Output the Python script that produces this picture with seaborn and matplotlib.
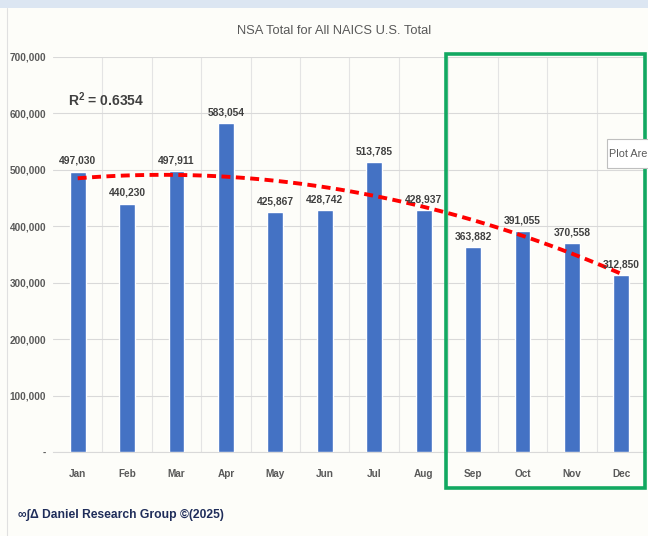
import numpy as np
import pandas as pd
import seaborn as sns
import matplotlib.pyplot as plt
from matplotlib.patches import Rectangle
from matplotlib.lines import Line2D
from matplotlib.ticker import FuncFormatter, MultipleLocator

# Monthly values
months = ['Jan', 'Feb', 'Mar', 'Apr', 'May', 'Jun', 'Jul', 'Aug', 'Sep', 'Oct', 'Nov', 'Dec']
totals = [497030, 440230, 497911, 583054, 425867, 428742, 513785, 428937, 363882, 391055, 370558, 312850]
r2_text = 'R$^\\mathbf{2}$ = 0.6354'

df = pd.DataFrame({'month': months, 'total': totals})

sns.set_style('white')
plt.rcParams['font.family'] = ['Liberation Sans', 'DejaVu Sans']
plt.rcParams['mathtext.fontset'] = 'custom'
plt.rcParams['mathtext.rm'] = 'Liberation Sans'
plt.rcParams['mathtext.bf'] = 'Liberation Sans:bold'

bg = '#FDFDF9'
grey = '#595959'
fig = plt.figure(figsize=(6.48, 5.36), dpi=100, facecolor=bg)
ax = fig.add_axes([53 / 648, 1 - 452 / 536, 593 / 648, 395 / 536])
ax.set_facecolor(bg)

sns.barplot(data=df, x='month', y='total', color='#4472C4', width=0.32,
            saturation=1, ax=ax, zorder=3)

# 2nd order polynomial trendline, fitted to the data
xs = np.arange(len(totals))
coef = np.polyfit(xs, totals, 2)
xf = np.linspace(0, len(totals) - 1, 100)
ax.plot(xf, np.polyval(coef, xf), color='#FF0000', lw=2.8, ls=(0, (2.3, 1.4)), zorder=4)

# data labels
for i, v in enumerate(totals):
    ax.text(i, v + 10000, f'{v:,}', ha='center', va='bottom', fontsize=7.4,
            fontweight='bold', color='#404040', zorder=5)

ax.set_ylim(0, 700000)
ax.set_xlim(-0.5, len(months) - 0.5)
ax.yaxis.set_major_locator(MultipleLocator(100000))
ax.yaxis.set_major_formatter(FuncFormatter(lambda v, p: '-' if v == 0 else f'{int(v):,}'))
ax.set_xticks(np.arange(len(months)) + 0.5, minor=True)
ax.grid(True, which='major', axis='y', color='#D9D9D9', lw=0.8, zorder=0)
ax.grid(True, which='minor', axis='x', color='#E4E4E4', lw=0.8, zorder=0)
ax.tick_params(axis='both', which='both', length=0, colors=grey, labelsize=7.2)
ax.tick_params(axis='x', pad=12)
ax.tick_params(axis='y', pad=5)
for lbl in ax.get_xticklabels() + ax.get_yticklabels():
    lbl.set_fontweight('bold')
ax.set_xlabel('')
ax.set_ylabel('')
for s in ['top', 'right', 'left']:
    ax.spines[s].set_visible(False)
ax.spines['bottom'].set_color('#D9D9D9')

fig.text(68 / 648, 1 - 100 / 536, r2_text, ha='left', va='center', fontsize=10,
         fontweight='bold', color='#404040')

fig.text(334 / 648, 1 - 31 / 536, 'NSA Total for All NAICS U.S. Total', ha='center',
         va='center', fontsize=9.3, color=grey)

# top strip and left frame edge
fig.add_artist(Rectangle((0, 1 - 8 / 536), 1, 8 / 536, transform=fig.transFigure,
                         facecolor='#DCE6F2', edgecolor='none'))
fig.add_artist(Line2D([7 / 648, 7 / 648], [0, 1 - 8 / 536], transform=fig.transFigure,
                      color='#E0E0E0', lw=0.8))

# green highlight box around Sep-Dec
fig.add_artist(Rectangle((446 / 648, 1 - 488 / 536), 199 / 648, 434 / 536,
                         transform=fig.transFigure, fill=False,
                         edgecolor='#12A861', lw=2.6, zorder=10))

# tooltip fragment
fig.add_artist(Rectangle((607 / 648, 1 - 168 / 536), 50 / 648, 29 / 536,
                         transform=fig.transFigure, facecolor='white',
                         edgecolor='#BFBFBF', lw=0.8, zorder=11))
fig.text(609 / 648, 1 - 154 / 536, 'Plot Are', ha='left', va='center', fontsize=7.8,
         color=grey, zorder=12)

fig.text(18 / 648, 1 - 515 / 536, '∞∫Δ Daniel Research Group ©(2025)', ha='left',
         va='center', fontsize=8.7, fontweight='bold', color='#1F2D5A')

fig.savefig('out.png', dpi=100, facecolor=bg)
